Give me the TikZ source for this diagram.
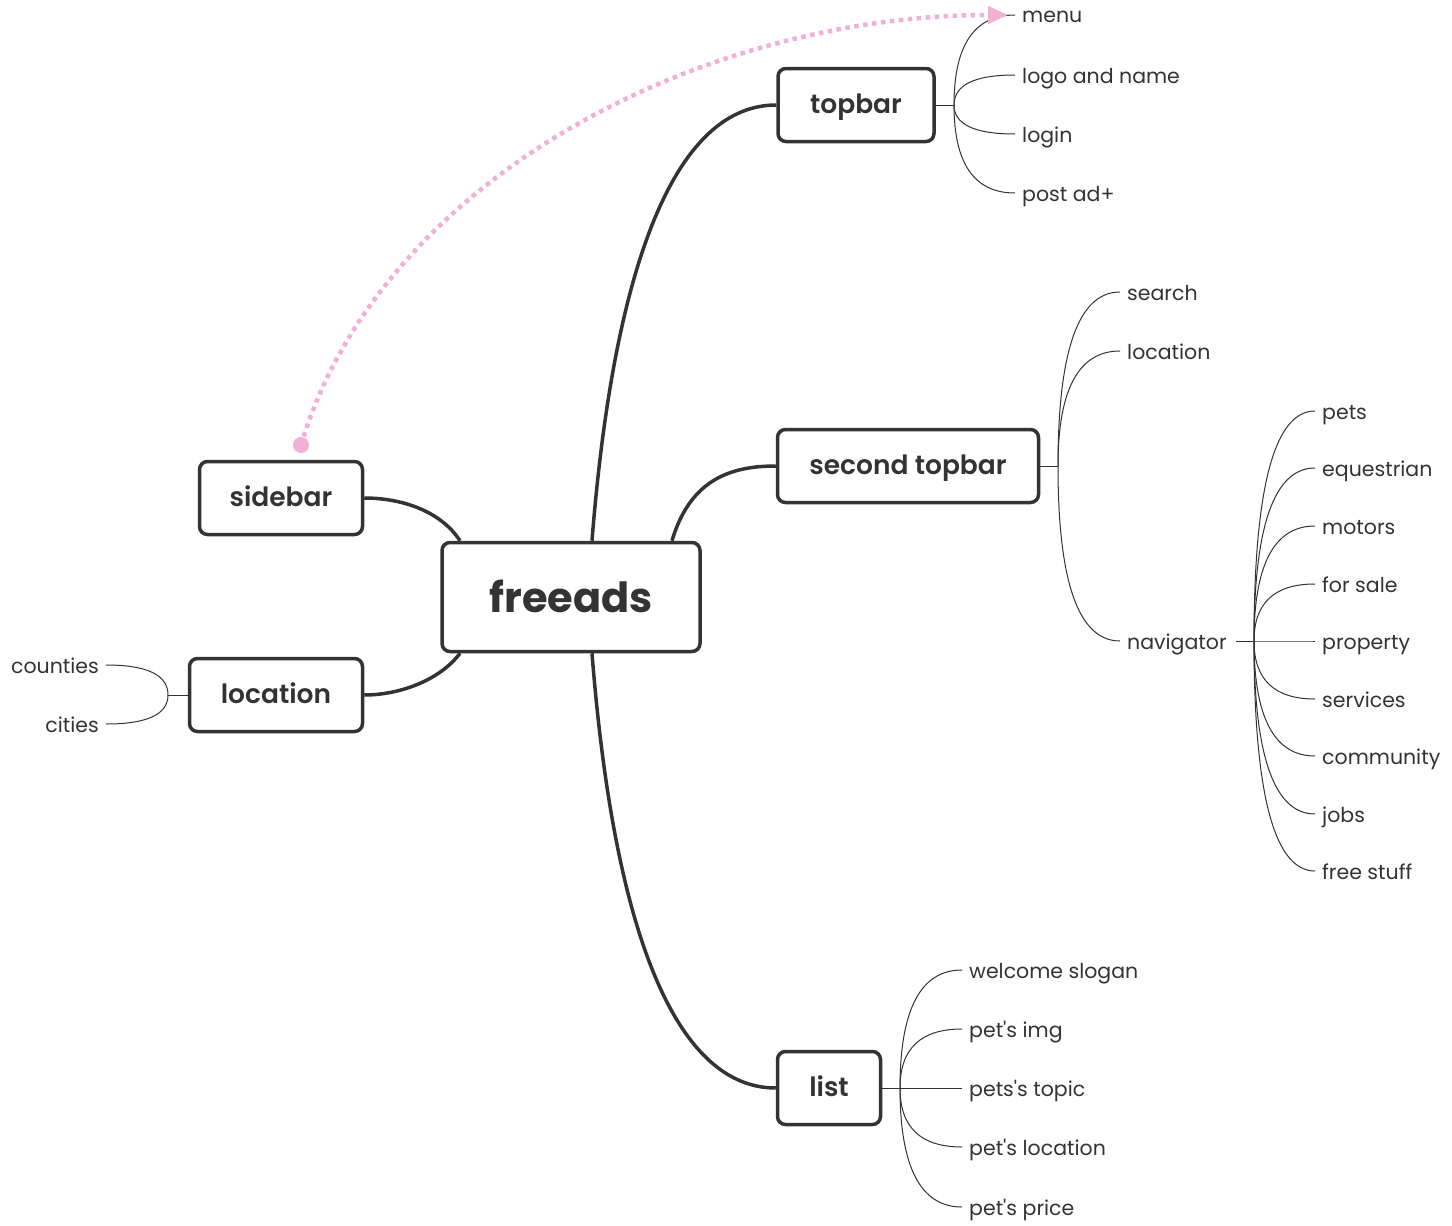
\documentclass[tikz,border=0pt]{standalone}
\usepackage{fontspec}
\setmainfont{Poppins}[Ligatures=TeXOff]
\newfontfamily\semib{Poppins SemiBold}[Ligatures=TeXOff]
\usetikzlibrary{arrows.meta,calc}
\definecolor{ink}{HTML}{333333}
\definecolor{pinky}{HTML}{F2B0D6}
\begin{document}
\begin{tikzpicture}[x=1pt,y=-1pt,
 box/.style={draw=ink, line width=3.5pt, rounded corners=8pt, fill=white, text=ink,
   font=\semib\fontsize{26.5}{30}\selectfont, minimum height=73pt, inner sep=0pt,
   text height=17pt, text depth=0pt},
 leaf/.style={text=ink, font=\fontsize{20.5}{24}\selectfont, inner xsep=7pt, inner ysep=0pt,
   text height=16pt, text depth=0pt},
 trunk/.style={draw=ink, line width=3.5pt},
 twig/.style={draw=ink, line width=1pt}]
\useasboundingbox (0,0) rectangle (1452,1226);

% main boxes
\node[box, minimum width=258pt, minimum height=109pt, font=\bfseries\fontsize{41.5}{46}\selectfont, text height=31pt] (free) at (571,597) {freeads};
\node[box, minimum width=156pt] (topbar) at (856,105) {topbar};
\node[box, minimum width=261pt] (second) at (908,466) {second topbar};
\node[box, minimum width=163pt] (sidebar) at (281,498) {sidebar};
\node[box, minimum width=173pt] (loc) at (276,695) {location};
\node[box, minimum width=103pt] (list) at (829,1088) {list};

% trunk connectors
\draw[trunk] ([xshift=21pt]free.north) .. controls (615,250) and (680,105) .. (topbar.west);
\draw[trunk] ([xshift=101pt]free.north) .. controls (690,480) and (730,466) .. (second.west);
\draw[trunk] ([xshift=-111pt]free.north) .. controls (440,510) and (400,498) .. (sidebar.east);
\draw[trunk] ([xshift=-111pt]free.south) .. controls (440,680) and (400,695) .. (loc.east);
\draw[trunk] ([xshift=21pt]free.south) .. controls (615,945) and (680,1088) .. (list.west);

% quadratic branch from fork #1 to anchor #2
\newcommand{\branch}[2]{%
  \draw[twig] (#1) .. controls ($(#1)!0.667!(#1 |- #2)$) and ($(#2)!0.667!(#1 |- #2)$) .. (#2);}

% topbar leaves
\node[leaf, anchor=west] (menu) at (1015,15) {menu};
\node[leaf, anchor=west] (logo) at (1015,75) {logo and name};
\node[leaf, anchor=west] (login) at (1015,134) {login};
\node[leaf, anchor=west] (post) at (1015,193) {post ad+};
\coordinate (tf) at (954,105);
\draw[twig] (topbar.east) -- (tf);
\foreach \n in {menu,logo,login,post} {\branch{tf}{\n.west}}

% second topbar leaves
\node[leaf, anchor=west] (search) at (1120,292) {search};
\node[leaf, anchor=west] (sloc) at (1120,351) {location};
\node[leaf, anchor=west] (nav) at (1120,641) {navigator};
\coordinate (sf) at (1058,466);
\draw[twig] (second.east) -- (sf);
\foreach \n in {search,sloc,nav} {\branch{sf}{\n.west}}

% navigator leaves
\coordinate (nf) at (1254,641);
\draw[twig] ([xshift=2pt]nav.east) -- (nf);
\foreach \n/\t/\y in {pets/pets/411, eq/equestrian/468, mot/motors/526, sale/for sale/584,
  prop/property/641, serv/services/699, comm/community/756, jobs/jobs/814, free/free stuff/871} {
  \node[leaf, anchor=west] (\n) at (1315,\y) {\t};
  \branch{nf}{\n.west}
}

% list leaves
\coordinate (lf) at (900,1088);
\draw[twig] (list.east) -- (lf);
\foreach \n/\t/\y in {wel/welcome slogan/970, img/pet's img/1029, top/pets's topic/1088,
  ploc/pet's location/1147, price/pet's price/1207} {
  \node[leaf, anchor=west] (\n) at (962,\y) {\t};
  \branch{lf}{\n.west}
}

% location leaves
\coordinate (cf) at (168,695);
\draw[twig] (loc.west) -- (cf);
\node[leaf, anchor=east] (counties) at (106,665) {counties};
\node[leaf, anchor=east] (cities) at (106,724) {cities};
\foreach \n in {counties,cities} {\branch{cf}{\n.east}}

% relation
\coordinate (dot) at (301,445);
\fill[pinky] (dot) circle (8pt);
\draw[pinky, line width=4.5pt, dash pattern=on 4.5pt off 4.5pt, -{Triangle[length=20pt,width=17pt]}]
  (dot) .. controls (380,180) and (700,15) .. ([xshift=-7pt]menu.west);
\end{tikzpicture}
\end{document}
